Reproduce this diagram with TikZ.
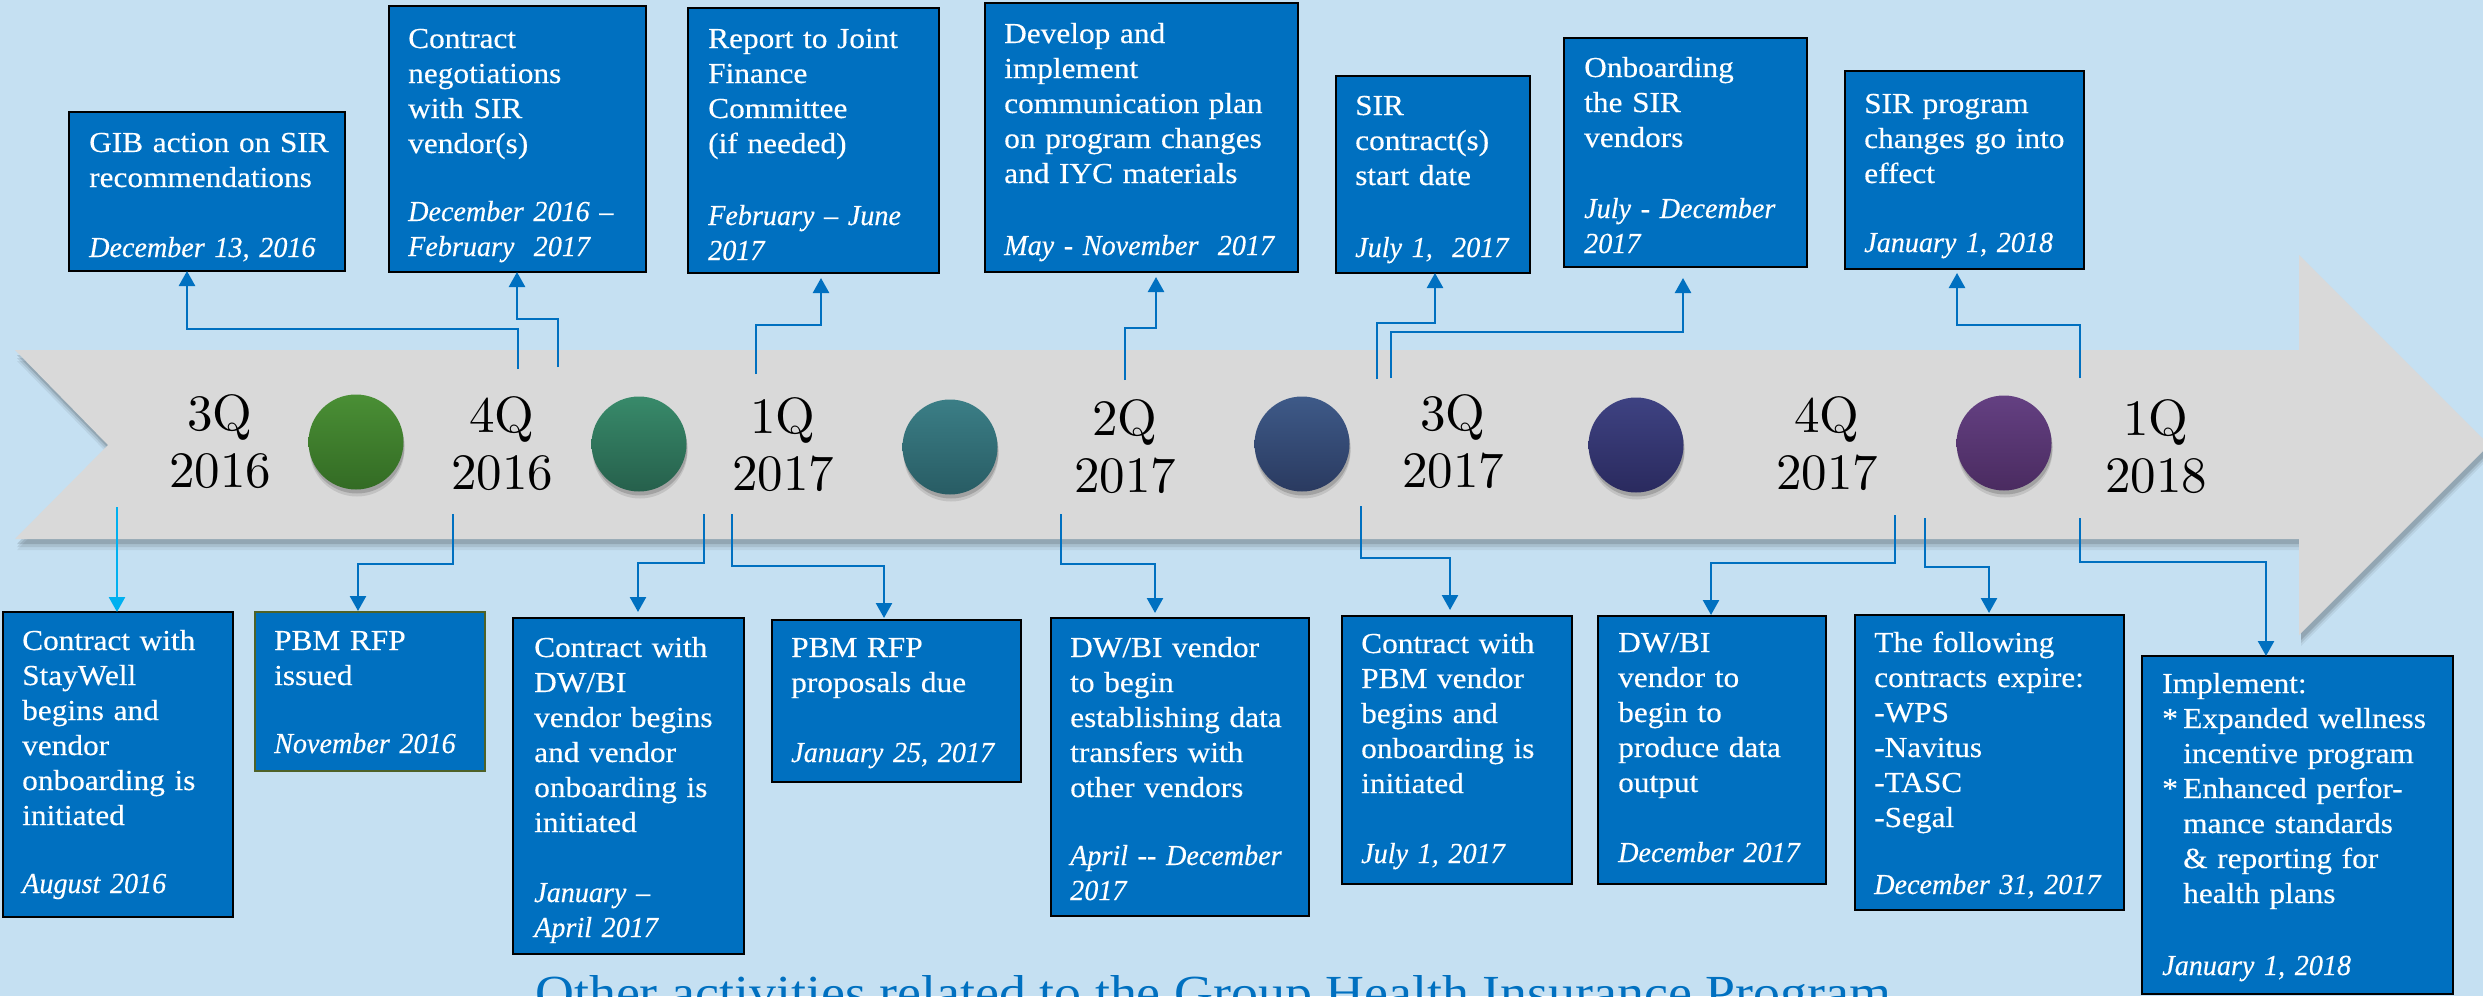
\documentclass[tikz,border=0pt]{standalone}
\usepackage{fontspec}
\newfontfamily\boxfont[FakeStretch=1.08,FakeBold=0.35]{Liberation Serif}
\newfontfamily\datefont[FakeStretch=0.97,FakeBold=0.3]{Liberation Serif}
\newfontfamily\capfont[FakeStretch=1.1]{Liberation Serif}
\newfontfamily\qfont[Extension=.otf]{lmroman10-regular}
\newcommand{\dte}[1]{{\datefont\itshape #1}}
\usetikzlibrary{arrows.meta,shadows}
\definecolor{bgblue}{RGB}{197,224,242}
\definecolor{bandgray}{RGB}{217,217,217}
\definecolor{evblue}{RGB}{0,112,192}
\definecolor{cyanline}{RGB}{0,176,240}
\definecolor{olivebd}{RGB}{79,98,40}
\definecolor{dotAt}{RGB}{74,143,53}\definecolor{dotAb}{RGB}{51,107,36}
\definecolor{dotBt}{RGB}{56,138,106}\definecolor{dotBb}{RGB}{38,96,76}
\definecolor{dotCt}{RGB}{59,126,134}\definecolor{dotCb}{RGB}{40,92,100}
\definecolor{dotDt}{RGB}{62,90,136}\definecolor{dotDb}{RGB}{42,58,96}
\definecolor{dotEt}{RGB}{62,66,130}\definecolor{dotEb}{RGB}{42,42,94}
\definecolor{dotFt}{RGB}{100,64,130}\definecolor{dotFb}{RGB}{74,43,96}
\begin{document}
\begin{tikzpicture}[x=1pt,y=-1pt,
  evbox/.style={draw=black,line width=2.2pt,fill=evblue,inner sep=0pt,outer sep=0pt,anchor=north west},
  evtext/.style={anchor=base west,inner sep=0pt,text=white,align=left,text width=400pt,
    font=\boxfont\fontsize{29}{35}\selectfont},
  qlabel/.style={anchor=base,inner sep=0pt,align=center,text width=140pt,
    font=\qfont\fontsize{51}{57}\selectfont},
  qdot/.style n args={2}{circle,minimum size=95pt,inner sep=0pt,draw=none,
    drop shadow={shadow xshift=1pt,shadow yshift=-7pt,opacity=.10,fill=black},
    drop shadow={shadow xshift=1pt,shadow yshift=-4pt,opacity=.16,fill=black},
    top color=#1,bottom color=#2},
  conn/.style={draw=evblue,line width=2.5pt,-{Triangle[width=16pt,length=15pt]}},
]
\useasboundingbox (0,0) rectangle (2483,996);
\clip (0,0) rectangle (2483,996);
\fill[bgblue] (0,0) rectangle (2483,996);

% timeline band with a soft shadow
\foreach \dy/\op in {11/0.06,8/0.09,5/0.13}
  \fill[black,opacity=\op,shift={(2,\dy)}] (15,350) -- (2299,350) -- (2299,255) -- (2489,445)
    -- (2299,635) -- (2299,539) -- (15,539) -- (108,445) -- cycle;
\fill[bandgray] (15,350) -- (2299,350) -- (2299,255) -- (2489,445)
    -- (2299,635) -- (2299,539) -- (15,539) -- (108,445) -- cycle;

% quarter markers
\node[qdot={dotAt}{dotAb}] (d1) at (356,442) {};
\node[qdot={dotBt}{dotBb}] (d2) at (639,444) {};
\node[qdot={dotCt}{dotCb}] (d3) at (950,447) {};
\node[qdot={dotDt}{dotDb}] (d4) at (1302,444) {};
\node[qdot={dotEt}{dotEb}] (d5) at (1636,445) {};
\node[qdot={dotFt}{dotFb}] (d6) at (2004,443) {};

\node[qlabel] (q1) at (220,430) {3Q\\2016};
\node[qlabel] (q2) at (502,432) {4Q\\2016};
\node[qlabel] (q3) at (783,433) {1Q\\2017};
\node[qlabel] (q4) at (1125,435) {2Q\\2017};
\node[qlabel] (q5) at (1453,430) {3Q\\2017};
\node[qlabel] (q6) at (1827,432) {4Q\\2017};
\node[qlabel] (q7) at (2156,435) {1Q\\2018};

% event boxes above the band
\node[evbox,minimum width=276pt,minimum height=159pt] (gib) at (69,112) {};
\node[evbox,minimum width=257pt,minimum height=266pt] (neg) at (389,6) {};
\node[evbox,minimum width=251pt,minimum height=265pt] (jfc) at (688,8) {};
\node[evbox,minimum width=313pt,minimum height=269pt] (comm) at (985,3) {};
\node[evbox,minimum width=194pt,minimum height=197pt] (sirc) at (1336,76) {};
\node[evbox,minimum width=243pt,minimum height=229pt] (onb) at (1564,38) {};
\node[evbox,minimum width=239pt,minimum height=198pt] (sirp) at (1845,71) {};

% event boxes below the band
\node[evbox,minimum width=230pt,minimum height=305pt] (stay) at (3,612) {};
\node[evbox,draw=olivebd,minimum width=230pt,minimum height=159pt] (rfp) at (255,612) {};
\node[evbox,minimum width=231pt,minimum height=336pt] (dwc) at (513,618) {};
\node[evbox,minimum width=249pt,minimum height=162pt] (prop) at (772,620) {};
\node[evbox,minimum width=258pt,minimum height=298pt] (dwe) at (1051,618) {};
\node[evbox,minimum width=230pt,minimum height=268pt] (pbmc) at (1342,616) {};
\node[evbox,minimum width=228pt,minimum height=268pt] (dwp) at (1598,616) {};
\node[evbox,minimum width=269pt,minimum height=295pt] (exp) at (1855,615) {};
\node[evbox,minimum width=311pt,minimum height=338pt] (impl) at (2142,656) {};

% box texts
\node[evtext] (gibT) at (89,152) {GIB action on SIR\\recommendations\\[35pt]\dte{December 13, 2016}};
\node[evtext] (negT) at (408,48) {Contract\\negotiations\\with SIR\\vendor(s)\\[33pt]\dte{December 2016 –}\\\dte{February~ 2017}};
\node[evtext] (jfcT) at (708,48) {Report to Joint\\Finance\\Committee\\(if needed)\\[37pt]\dte{February – June}\\\dte{2017}};
\node[evtext] (commT) at (1004,43) {Develop and\\implement\\communication plan\\on program changes\\and IYC materials\\[37pt]\dte{May - November~ 2017}};
\node[evtext] (sircT) at (1355,115) {SIR\\contract(s)\\start date\\[37pt]\dte{July 1,~ 2017}};
\node[evtext] (onbT) at (1584,77) {Onboarding\\the SIR\\vendors\\[36pt]\dte{July - December}\\\dte{2017}};
\node[evtext] (sirpT) at (1864,113) {SIR program\\changes go into\\effect\\[34pt]\dte{January 1, 2018}};

\node[evtext] (stayT) at (22,650) {Contract with\\StayWell\\begins and\\vendor\\onboarding is\\initiated\\[33pt]\dte{August 2016}};
\node[evtext] (rfpT) at (274,650) {PBM RFP\\issued\\[33pt]\dte{November 2016}};
\node[evtext] (dwcT) at (534,657) {Contract with\\DW/BI\\vendor begins\\and vendor\\onboarding is\\initiated\\[35pt]\dte{January –}\\\dte{April 2017}};
\node[evtext] (propT) at (791,657) {PBM RFP\\proposals due\\[35pt]\dte{January 25, 2017}};
\node[evtext] (dweT) at (1070,657) {DW/BI vendor\\to begin\\establishing data\\transfers with\\other vendors\\[33pt]\dte{April -{}- December}\\\dte{2017}};
\node[evtext] (pbmcT) at (1361,653) {Contract with\\PBM vendor\\begins and\\onboarding is\\initiated\\[35pt]\dte{July 1, 2017}};
\node[evtext] (dwpT) at (1618,652) {DW/BI\\vendor to\\begin to\\produce data\\output\\[35pt]\dte{December 2017}};
\node[evtext] (expT) at (1874,652) {The following\\contracts expire:\\-WPS\\-Navitus\\-TASC\\-Segal\\[32pt]\dte{December 31, 2017}};
\node[evtext] (implT) at (2162,693) {Implement:\\\makebox[21pt][l]{*}Expanded wellness\\\hspace*{21pt}incentive program\\\makebox[21pt][l]{*}Enhanced perfor-\\\hspace*{21pt}mance standards\\\hspace*{21pt}\& reporting for\\\hspace*{21pt}health plans\\[37pt]\dte{January 1, 2018}};

% connectors from the band to the boxes above
\coordinate (sgib) at (518,369);
\coordinate (sneg) at (558,367);
\coordinate (sjfc) at (756,374);
\coordinate (scomm) at (1125,380);
\coordinate (ssirc) at (1377,379);
\coordinate (sonb) at (1391,378);
\coordinate (ssirp) at (2080,378);
\draw[conn] (sgib) -- ++(0,-40) -| ([xshift=-20pt]gib.south);
\draw[conn] (sneg) -- ++(0,-48) -| ([xshift=-0.5pt]neg.south);
\draw[conn] (sjfc) -- ++(0,-49) -| ([xshift=7.5pt,yshift=-5pt]jfc.south);
\draw[conn] (scomm) -- ++(0,-52) -| ([xshift=14.5pt,yshift=-5pt]comm.south);
\draw[conn] (ssirc) -- ++(0,-56) -| ([xshift=2pt]sirc.south);
\draw[conn] (sonb) -- ++(0,-46) -| ([xshift=-2.5pt,yshift=-11pt]onb.south);
\draw[conn] (ssirp) -- ++(0,-53) -| ([xshift=-7.5pt,yshift=-4pt]sirp.south);

% connectors from the band to the boxes below
\coordinate (sstay) at (117,507);
\coordinate (srfp) at (453,514);
\coordinate (sdwc) at (704,514);
\coordinate (sprop) at (732,514);
\coordinate (sdwe) at (1061,514);
\coordinate (spbmc) at (1361,506);
\coordinate (sdwp) at (1895,515);
\coordinate (sexp) at (1925,518);
\coordinate (simpl) at (2080,518);
\draw[conn,draw=cyanline] (sstay) -- ([xshift=-1pt]stay.north);
\draw[conn] (srfp) -- ++(0,50) -| ([xshift=-12pt,yshift=1pt]rfp.north);
\draw[conn] (sdwc) -- ++(0,49) -| ([xshift=9.5pt,yshift=6pt]dwc.north);
\draw[conn] (sprop) -- ++(0,52) -| ([xshift=-12.5pt,yshift=2pt]prop.north);
\draw[conn] (sdwe) -- ++(0,50) -| ([xshift=-25pt,yshift=5pt]dwe.north);
\draw[conn] (spbmc) -- ++(0,52) -| ([xshift=-7pt,yshift=6pt]pbmc.north);
\draw[conn] (sdwp) -- ++(0,48) -| ([xshift=-1pt,yshift=1pt]dwp.north);
\draw[conn] (sexp) -- ++(0,49) -| ([xshift=-0.5pt,yshift=2pt]exp.north);
\draw[conn] (simpl) -- ++(0,44) -| ([xshift=-31.5pt]impl.north);

% caption along the lower edge
\node[anchor=base west,inner sep=0pt,text=evblue,font=\capfont\fontsize{49}{55}\selectfont]
  (other) at (535,1009) {Other activities related to the Group Health Insurance Program};
\end{tikzpicture}
\end{document}
